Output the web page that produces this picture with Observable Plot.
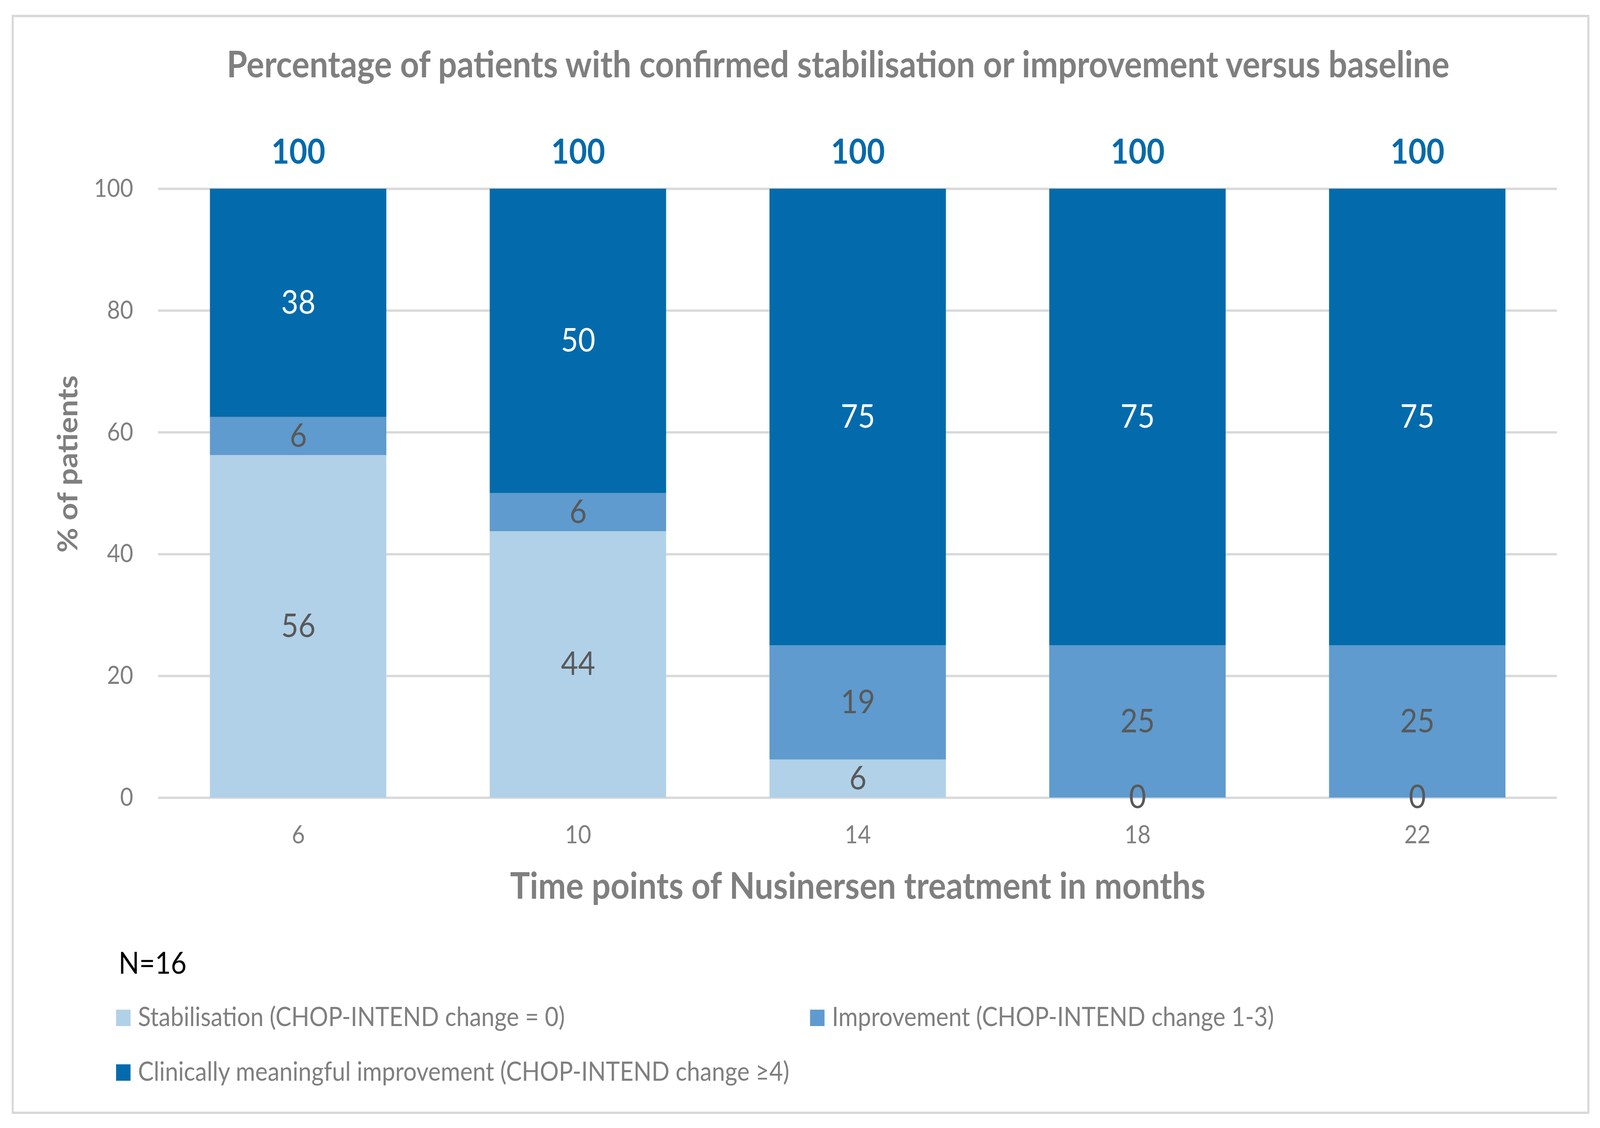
<!DOCTYPE html>
<html>
<head>
<meta charset="utf-8">
<script src="https://cdn.jsdelivr.net/npm/d3@7"></script>
<script src="https://cdn.jsdelivr.net/npm/@observablehq/plot@0.6"></script>
<style>
  html, body { margin: 0; padding: 0; background: #fff; overflow: hidden; }
  #chart { position: relative; width: 4535px; height: 2888px; background: #fff; overflow: hidden; font-family: Lato, "Open Sans", sans-serif; transform-origin: 0 0; }
  #frame { position: absolute; left: 33px; top: 38px; width: 4472px; height: 2814px; border: 6px solid #d9d9d9; box-sizing: border-box; pointer-events: none; }
  .abs { position: absolute; white-space: nowrap; line-height: 1; }
</style>
</head>
<body>
<div id="chart"><div id="frame"></div></div>
<script>
// ---- data ----
const months = ["6", "10", "14", "18", "22"];
const seriesNames = [
  "Stabilisation (CHOP-INTEND change = 0)",
  "Improvement (CHOP-INTEND change 1-3)",
  "Clinically meaningful improvement (CHOP-INTEND change \u22654)"
];
const stabilisation = [56.25, 43.75, 6.25, 0, 0];
const improvement = [6.25, 6.25, 18.75, 25, 25];
const clinicallyMeaningful = [37.5, 50, 75, 75, 75];
const totals = [100, 100, 100, 100, 100];
const yTicks = [0, 20, 40, 60, 80, 100];
const seriesColors = ["#b1d1e8", "#5f9bce", "#036bac"];
const titleText = "Percentage of patients with confirmed stabilisation or improvement versus baseline";
const xTitle = "Time points of Nusinersen treatment in months";
const yTitle = "% of patients";
const noteText = "N=16";

// ---- tables ----
const seriesValues = [stabilisation, improvement, clinicallyMeaningful];
const rows = months.flatMap((m, i) => seriesNames.map((s, j) => ({month: m, series: s, value: seriesValues[j][i]})));
const totalRows = months.map((m, i) => ({month: m, total: totals[i]}));
const fmt = d3.format(".0f");
const darkSeries = seriesNames[2];

const plot = Plot.plot({
  width: 4535,
  height: 2342,
  marginLeft: 448,
  marginRight: 122,
  marginTop: 483,
  marginBottom: 300,
  style: {fontFamily: "Lato, 'Open Sans', sans-serif", background: "transparent", overflow: "visible", position: "absolute", left: "0px", top: "0px", maxWidth: "none"},
  x: {domain: months, paddingInner: 0.37, paddingOuter: 0.185, axis: null},
  y: {domain: [0, 100], axis: null},
  color: {domain: seriesNames, range: seriesColors},
  marks: [
    Plot.gridY(yTicks, {stroke: "#d9d9d9", strokeOpacity: 1, strokeWidth: 6}),
    Plot.barY(rows, {x: "month", y: "value", fill: "series"}),
    Plot.axisY(yTicks, {tickSize: 0, tickPadding: 71, fontSize: 64, fill: "#7f7f7f", label: null}),
    Plot.axisX({tickSize: 0, tickPadding: 71, fontSize: 64, fill: "#7f7f7f", label: null}),
    Plot.text(rows, Plot.stackY({x: "month", y: "value", z: "series",
      text: d => d.series === darkSeries ? null : fmt(d.value), fill: "#595959", fontSize: 84})),
    Plot.text(rows, Plot.stackY({x: "month", y: "value", z: "series",
      text: d => d.series === darkSeries ? fmt(d.value) : null, fill: "white", fontSize: 84})),
    Plot.text(totalRows, {x: "month", y: "total", text: d => String(d.total), lineAnchor: "bottom", dy: -65,
      fill: "#046aab", fontWeight: "bold", fontSize: 88}),
    Plot.text([titleText], {frameAnchor: "top", textAnchor: "middle", lineAnchor: "bottom", dy: -286, dx: -55.5, text: d => d,
      fill: "#7f7f7f", fontWeight: "bold", fontSize: 94}),
    Plot.text([xTitle], {frameAnchor: "bottom", textAnchor: "middle", lineAnchor: "bottom", dy: 258, text: d => d,
      fill: "#7f7f7f", fontWeight: "bold", fontSize: 94}),
    Plot.text([yTitle], {frameAnchor: "left", textAnchor: "middle", lineAnchor: "bottom", rotate: -90, dx: -229, dy: -75, text: d => d,
      fill: "#7f7f7f", fontWeight: "bold", fontSize: 78})
  ]
});

const chart = document.getElementById("chart");
chart.insertBefore(plot, chart.firstChild);

// ---- N note ----
const noteSize = 77;
const note = document.createElement("div");
note.className = "abs";
note.textContent = noteText;
note.style.cssText = `left:336px; top:${2493 - 0.887 * noteSize}px; font-size:${noteSize}px; color:#000;`;
chart.appendChild(note);

// ---- legend ----
const legendSize = 67;
const legendSlots = [{col: 0, row: 0}, {col: 1, row: 0}, {col: 0, row: 1}];
const colLeft = [329, 2296];
const rowBaseline = [2627, 2767];
seriesNames.forEach((name, i) => {
  const slot = legendSlots[i];
  const sw = document.createElement("div");
  sw.className = "abs";
  sw.style.cssText = `left:${colLeft[slot.col]}px; top:${rowBaseline[slot.row] - 42}px; width:41px; height:42px; background:${seriesColors[i]};`;
  chart.appendChild(sw);
  const t = document.createElement("div");
  t.className = "abs";
  t.textContent = name;
  t.style.cssText = `left:${colLeft[slot.col] + 62}px; top:${rowBaseline[slot.row] - 0.887 * legendSize}px; font-size:${legendSize}px; color:#7f7f7f;`;
  chart.appendChild(t);
});

// ---- fit the 4535x2888 layout into the actual viewport ----
const vw = document.documentElement.clientWidth || window.innerWidth;
const vh = document.documentElement.clientHeight || window.innerHeight;
const sx = vw / 4535, sy = vh / 2888;
if (Math.abs(sx - 1) > 0.001 || Math.abs(sy - 1) > 0.001) chart.style.transform = `scale(${sx}, ${sy})`;
</script>
</body>
</html>
